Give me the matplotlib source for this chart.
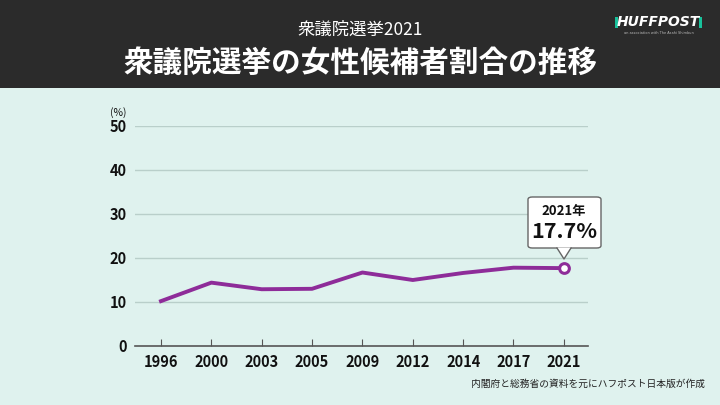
from matplotlib import pyplot as plt
from matplotlib.patches import Rectangle, FancyBboxPatch
import matplotlib.patches as mpatches

plt.rcParams['font.family'] = ['Noto Sans CJK JP', 'DejaVu Sans']

years = ['1996', '2000', '2003', '2005', '2009', '2012', '2014', '2017', '2021']
share = [10.2, 14.4, 12.9, 13.0, 16.7, 15.0, 16.6, 17.8, 17.7]
yticks = [0, 10, 20, 30, 40, 50]

BG = '#dff2ee'
HEADER = '#2b2b2b'
PURPLE = '#8e2c99'

W, H = 720, 405
fig = plt.figure(figsize=(7.2, 4.05), dpi=100)
fig.patch.set_facecolor(BG)

# header band
fig.patches.append(Rectangle((0, 1 - 88 / H), 1, 88 / H, transform=fig.transFigure,
                             facecolor=HEADER, edgecolor='none', zorder=0))
fig.text(0.5, 1 - 30 / H, '衆議院選挙2021', color='white', fontsize=12.5,
         ha='center', va='center')
fig.text(0.5, 1 - 63 / H, '衆議院選挙の女性候補者割合の推移', color='white', fontsize=21.3,
         fontweight='bold', ha='center', va='center')

# logo
fig.patches.append(Rectangle((615 / W, 1 - 28 / H), 3 / W, 11 / H, transform=fig.transFigure,
                             facecolor='#18c29c', edgecolor='none'))
fig.patches.append(Rectangle((699 / W, 1 - 28 / H), 3 / W, 11 / H, transform=fig.transFigure,
                             facecolor='#18c29c', edgecolor='none'))
fig.text(658.5 / W, 1 - 22.5 / H, 'HUFFPOST', color='white', fontsize=10, fontweight='bold',
         fontstyle='italic', family='DejaVu Sans', ha='center', va='center')
fig.text(658.5 / W, 1 - 33 / H, 'an association with The Asahi Shimbun', color='#bbbbbb',
         fontsize=2.5, ha='center', va='center', family='DejaVu Sans')

# chart
ax = fig.add_axes([135 / W, 1 - 346 / H, (588 - 135) / W, (346 - 126) / H])
ax.set_facecolor(BG)
x = list(range(len(years)))
ax.plot(x, share, color=PURPLE, lw=2.8, solid_joinstyle='round', zorder=3)
ax.plot(x[-1], share[-1], 'o', ms=7, mfc='white', mec=PURPLE, mew=2.2, zorder=4)

ax.set_xlim(-0.516, 8.48)
ax.set_ylim(0, 50)
ax.set_yticks(yticks)
ax.set_xticks(x)
ax.set_xticklabels(years)
for t in yticks[1:]:
    ax.axhline(t, color='#b9cfca', lw=1, zorder=1)
for s in ['top', 'right', 'left']:
    ax.spines[s].set_visible(False)
ax.spines['bottom'].set_color('#555555')
ax.spines['bottom'].set_linewidth(1.2)
ax.tick_params(axis='y', length=0, pad=6, labelsize=10.5, labelcolor='#111111')
ax.tick_params(axis='x', direction='in', length=5, color='#555555', pad=6,
               labelsize=10.5, labelcolor='#111111')
for lab in ax.get_xticklabels() + ax.get_yticklabels():
    lab.set_fontweight('bold')
fig.text(118 / W, 1 - 113 / H, '(%)', fontsize=7.5, ha='center', va='center', color='#111111')

# callout box
box = FancyBboxPatch((528 / W, 1 - 248 / H), (601 - 528) / W, (248 - 197) / H,
                     boxstyle='round,pad=0,rounding_size=0.006', transform=fig.transFigure,
                     facecolor='white', edgecolor='#666666', lw=1, zorder=5)
fig.patches.append(box)
tri = mpatches.Polygon([[557 / W, 1 - 247.5 / H], [571 / W, 1 - 247.5 / H], [564 / W, 1 - 259 / H]],
                       closed=False, transform=fig.transFigure, facecolor='white',
                       edgecolor='none', zorder=6)
fig.patches.append(tri)
fig.add_artist(plt.Line2D([557 / W, 564 / W, 571 / W], [1 - 248 / H, 1 - 259 / H, 1 - 248 / H],
                          transform=fig.transFigure, color='#666666', lw=1, zorder=7))
fig.text(564 / W, 1 - 211 / H, '2021年', fontsize=9.5, fontweight='bold', ha='center',
         va='center', color='#111111', zorder=8)
fig.text(564 / W, 1 - 232 / H, '17.7%', fontsize=15.5, fontweight='bold', ha='center',
         va='center', color='#111111', zorder=8)

fig.text(705 / W, 1 - 384 / H, '内閣府と総務省の資料を元にハフポスト日本版が作成', fontsize=7,
         ha='right', va='center', color='#222222')

fig.savefig('out.png', dpi=100, facecolor=BG)
